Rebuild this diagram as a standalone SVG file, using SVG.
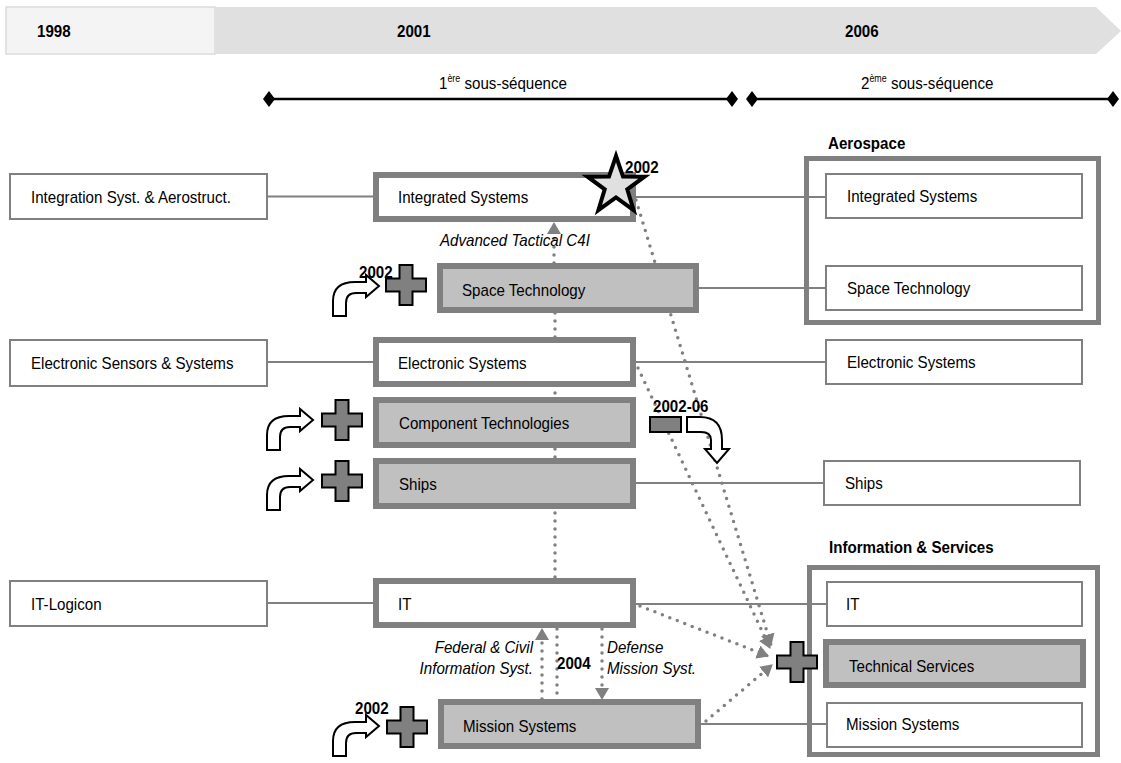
<svg xmlns="http://www.w3.org/2000/svg" width="1121" height="763" viewBox="0 0 1121 763">
<style>
text{font-family:"Liberation Sans",Arial,sans-serif;font-size:17px;fill:#000}
.b{font-weight:bold}
.i{font-style:italic}
.sup{font-size:10px}
.thin{fill:#fff;stroke:#808080;stroke-width:2}
.thickw{fill:#fff;stroke:#808080;stroke-width:6}
.thickg{fill:#c0c0c0;stroke:#808080;stroke-width:6}
.grp{fill:none;stroke:#808080;stroke-width:5}
.solid{stroke:#808080;stroke-width:2;fill:none}
.dot{stroke:#808080;stroke-width:3.5;stroke-linecap:round;stroke-dasharray:0 8;fill:none}
.plus{fill:#808080;stroke:#000;stroke-width:2}
.bent{fill:#fff;stroke:#000;stroke-width:2;stroke-linejoin:miter}
</style>
<defs>
<marker id="ah" viewBox="0 0 12 14" refX="11" refY="7" markerWidth="12" markerHeight="14" markerUnits="userSpaceOnUse" orient="auto">
<path d="M0,0 L12,7 L0,14 Z" fill="#808080"/>
</marker>
<path id="plus" d="M-6.5,-20 h13 v13.5 h13.5 v13 h-13.5 v13.5 h-13 v-13.5 h-13.5 v-13 h13.5 z"/>
<path id="bent" d="M0,41 L0,26 Q0,7 22,7 L33,7 L33,0 L46,11 L33,22 L33,18 L23,18 Q13,18 13,28 L13,41 Z"/>
</defs>

<g id="timeline">
<rect x="6" y="7" width="209" height="47" fill="#f4f4f4" stroke="#dcdcdc" stroke-width="1.5"/>
<polygon points="215,7 1096,7 1121,31 1096,54 215,54" fill="#e0e0e0"/>
<text class="b" transform="translate(37,37) scale(.89,1)">1998</text>
<text class="b" transform="translate(397,37) scale(.89,1)">2001</text>
<text class="b" transform="translate(845,37) scale(.89,1)">2006</text>
<line x1="269" y1="99" x2="732" y2="99" stroke="#000" stroke-width="2.5"/>
<line x1="752" y1="99" x2="1113" y2="99" stroke="#000" stroke-width="2.5"/>
<polygon points="269,91 275,99 269,107 263,99" fill="#000"/>
<polygon points="732,91 738,99 732,107 726,99" fill="#000"/>
<polygon points="752,91 758,99 752,107 746,99" fill="#000"/>
<polygon points="1113,91 1119,99 1113,107 1107,99" fill="#000"/>
<text transform="translate(439,89) scale(.89,1)">1<tspan class="sup" dy="-7">ère</tspan><tspan dy="7"> sous-séquence</tspan></text>
<text transform="translate(861,89) scale(.89,1)">2<tspan class="sup" dy="-7">ème</tspan><tspan dy="7"> sous-séquence</tspan></text>
</g>

<g id="connectors">
<line class="solid" x1="267" y1="196.5" x2="376" y2="196.5"/>
<line class="solid" x1="636" y1="197" x2="826" y2="197"/>
<line class="solid" x1="699" y1="288" x2="826" y2="288"/>
<line class="solid" x1="267" y1="362" x2="376" y2="362"/>
<line class="solid" x1="636" y1="362" x2="826" y2="362"/>
<line class="solid" x1="636" y1="483" x2="824" y2="483"/>
<line class="solid" x1="267" y1="603" x2="376" y2="603"/>
<line class="solid" x1="636" y1="604" x2="827" y2="604"/>
<line class="solid" x1="701" y1="724" x2="827" y2="724"/>
<line class="dot" x1="554" y1="263" x2="554" y2="223" marker-end="url(#ah)"/>
<line class="dot" x1="555" y1="313" x2="555" y2="578"/>
<line class="dot" x1="636" y1="200" x2="771" y2="645" marker-end="url(#ah)"/>
<line class="dot" x1="638" y1="368" x2="770" y2="648" marker-end="url(#ah)"/>
<line class="dot" x1="640" y1="606" x2="768" y2="656" marker-end="url(#ah)"/>
<line class="dot" x1="706" y1="721" x2="772" y2="665" marker-end="url(#ah)"/>
<line class="dot" x1="542" y1="699" x2="542" y2="629" marker-end="url(#ah)"/>
<line class="dot" x1="557" y1="629" x2="557" y2="699"/>
<line class="dot" x1="602" y1="629" x2="602" y2="699" marker-end="url(#ah)"/>
<text class="i" transform="translate(440,246) scale(.89,1)">Advanced Tactical C4I</text>
<text class="i" text-anchor="end" transform="translate(533,652.5) scale(.89,1)">Federal &amp; Civil</text>
<text class="i" text-anchor="end" transform="translate(533,673.5) scale(.89,1)">Information Syst.</text>
<text class="i" transform="translate(607,652.5) scale(.89,1)">Defense</text>
<text class="i" transform="translate(607,673.5) scale(.89,1)">Mission Syst.</text>
<text class="b" transform="translate(557,669) scale(.89,1)">2004</text>
</g>

<g id="left-integration">
<rect class="thin" x="10" y="174" width="257" height="45"/>
<text transform="translate(31,202.5) scale(.89,1)">Integration Syst. &amp; Aerostruct.</text>
</g>
<g id="left-electronic">
<rect class="thin" x="10" y="340" width="257" height="46"/>
<text transform="translate(31,368.5) scale(.89,1)">Electronic Sensors &amp; Systems</text>
</g>
<g id="left-itlogicon">
<rect class="thin" x="10" y="581" width="257" height="45"/>
<text transform="translate(31,609.5) scale(.89,1)">IT-Logicon</text>
</g>

<g id="mid-integrated">
<rect class="thickw" x="376" y="175" width="257" height="44"/>
<text transform="translate(398,203) scale(.89,1)">Integrated Systems</text>
</g>
<g id="star-2002">
<polygon points="616,156 623,176.6 644.5,176.7 627.3,189.3 633.6,210.1 616,197.4 598.4,210.1 604.7,189.3 587.5,176.7 609,176.6" fill="#e0e0e0" stroke="#000" stroke-width="4" stroke-linejoin="miter"/>
<text class="b" transform="translate(625,173) scale(.89,1)">2002</text>
</g>
<g id="mid-space">
<rect class="thickg" x="440" y="266" width="256" height="44"/>
<text transform="translate(462,295.5) scale(.89,1)">Space Technology</text>
</g>
<g id="acq-space">
<use href="#bent" class="bent" transform="translate(333,275)"/>
<use href="#plus" class="plus" transform="translate(406,285)"/>
<text class="b" transform="translate(359,278) scale(.89,1)">2002</text>
</g>
<g id="mid-electronic">
<rect class="thickw" x="376" y="340" width="257" height="44"/>
<text transform="translate(398,369) scale(.89,1)">Electronic Systems</text>
</g>
<g id="mid-component">
<rect class="thickg" x="376" y="400" width="257" height="45"/>
<text transform="translate(399,429) scale(.89,1)">Component Technologies</text>
</g>
<g id="acq-component">
<use href="#bent" class="bent" transform="translate(267,409)"/>
<use href="#plus" class="plus" transform="translate(342,420)"/>
</g>
<g id="mid-ships">
<rect class="thickg" x="376" y="461" width="257" height="45"/>
<text transform="translate(399,490) scale(.89,1)">Ships</text>
</g>
<g id="acq-ships">
<use href="#bent" class="bent" transform="translate(267,469)"/>
<use href="#plus" class="plus" transform="translate(342,481)"/>
</g>
<g id="divest-2002-06">
<text class="b" transform="translate(653,411.5) scale(.89,1)">2002-06</text>
<rect x="650" y="417" width="31" height="15" fill="#808080" stroke="#000" stroke-width="2"/>
<path class="bent" d="M687,417 L700,417 Q722,417 722,440 L722,449 L729,449 L717,463 L705,449 L711,449 L711,440 Q711,432 701,432 L687,432 Z"/>
</g>
<g id="mid-it">
<rect class="thickw" x="376" y="581" width="257" height="44"/>
<text transform="translate(398,610) scale(.89,1)">IT</text>
</g>
<g id="mid-mission">
<rect class="thickg" x="441" y="702" width="257" height="44"/>
<text transform="translate(463,732) scale(.89,1)">Mission Systems</text>
</g>
<g id="acq-mission">
<use href="#bent" class="bent" transform="translate(333,715)"/>
<use href="#plus" class="plus" transform="translate(407,727)"/>
<text class="b" transform="translate(355,714) scale(.89,1)">2002</text>
</g>

<g id="grp-aerospace">
<text class="b" transform="translate(828,149) scale(.89,1)">Aerospace</text>
<rect class="grp" x="806.5" y="158.5" width="292" height="164"/>
</g>
<g id="r-integrated">
<rect class="thin" x="826" y="174" width="256" height="44"/>
<text transform="translate(847,202) scale(.89,1)">Integrated Systems</text>
</g>
<g id="r-space">
<rect class="thin" x="826" y="266" width="256" height="44"/>
<text transform="translate(847,294) scale(.89,1)">Space Technology</text>
</g>
<g id="r-electronic">
<rect class="thin" x="826" y="340" width="256" height="44"/>
<text transform="translate(847,368) scale(.89,1)">Electronic Systems</text>
</g>
<g id="r-ships">
<rect class="thin" x="824" y="461" width="256" height="44"/>
<text transform="translate(845,489) scale(.89,1)">Ships</text>
</g>
<g id="grp-info">
<text class="b" transform="translate(829,553) scale(.89,1)">Information &amp; Services</text>
<rect class="grp" x="809.5" y="567.5" width="288" height="187"/>
</g>
<g id="r-it">
<rect class="thin" x="827" y="582" width="255" height="44"/>
<text transform="translate(846,609.5) scale(.89,1)">IT</text>
</g>
<g id="r-technical">
<rect class="thickg" x="826" y="642" width="257" height="43"/>
<text transform="translate(849,672) scale(.89,1)">Technical Services</text>
</g>
<g id="acq-technical">
<use href="#plus" class="plus" transform="translate(797,662)"/>
</g>
<g id="r-mission">
<rect class="thin" x="827" y="703" width="255" height="44"/>
<text transform="translate(846,730) scale(.89,1)">Mission Systems</text>
</g>
</svg>
